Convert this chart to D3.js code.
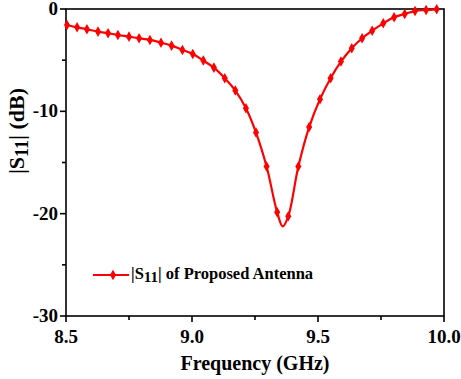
<!DOCTYPE html>
<html>
<head>
<meta charset="utf-8">
<script src="https://cdn.jsdelivr.net/npm/d3@7"></script>
<style>
  body { margin: 0; background: #fff; }
</style>
</head>
<body>
<div id="chart"></div>
<script>
// marker points
let freq = [8.504, 8.544, 8.583, 8.627, 8.667, 8.706, 8.750, 8.790, 8.833, 8.877,
            8.919, 8.962, 9.003, 9.045, 9.087, 9.130, 9.172, 9.214, 9.254, 9.296,
            9.338, 9.382, 9.422, 9.465, 9.508, 9.550, 9.591, 9.634, 9.675, 9.715,
            9.759, 9.802, 9.844, 9.885, 9.929, 9.971];
let s11 = [-1.56, -1.79, -1.98, -2.21, -2.37, -2.54, -2.70, -2.86, -3.02, -3.29,
           -3.58, -4.00, -4.39, -5.04, -5.73, -6.76, -7.97, -9.69, -12.07, -15.39,
           -19.87, -20.26, -15.39, -11.54, -8.81, -6.76, -5.14, -3.83, -2.86, -2.12,
           -1.40, -0.81, -0.49, -0.20, -0.10, -0.03];
// resonance dip between markers
let dipFreq = [9.360];
let dipS11 = [-21.24];

let xTicks = [8.5, 9.0, 9.5, 10.0];
let xMinor = [8.75, 9.25, 9.75];
let yTicks = [0, -10, -20, -30];
let yMinor = [-5, -15, -25];

const width = 461, height = 379;
const margin = {left: 66, right: 17, top: 9, bottom: 63};
const serif = "'Liberation Serif', 'Times New Roman', serif";

let svg = d3.select("#chart").append("svg")
    .attr("width", width)
    .attr("height", height)
    .attr("font-family", serif)
    .attr("font-weight", "bold");

let x = d3.scaleLinear().domain([8.5, 10.0]).range([margin.left, width - margin.right]);
let y = d3.scaleLinear().domain([-30, 0]).range([height - margin.bottom, margin.top]);

let points = freq.map((f, i) => [f, s11[i]]);
let linePts = points.concat(dipFreq.map((f, i) => [f, dipS11[i]])).sort((a, b) => a[0] - b[0]);

// frame
svg.append("rect")
    .attr("x", x(8.5)).attr("y", y(0))
    .attr("width", x(10) - x(8.5)).attr("height", y(-30) - y(0))
    .attr("fill", "none").attr("stroke", "#000").attr("stroke-width", 1.6);

// bottom axis
let gx = svg.append("g").attr("transform", `translate(0,${y(-30)})`);
gx.selectAll(".maj").data(xTicks).enter().append("line")
    .attr("x1", d => x(d)).attr("x2", d => x(d))
    .attr("y1", 0).attr("y2", 6).attr("stroke", "#000").attr("stroke-width", 1.6);
gx.selectAll(".min").data(xMinor).enter().append("line")
    .attr("x1", d => x(d)).attr("x2", d => x(d))
    .attr("y1", 0).attr("y2", 4).attr("stroke", "#000").attr("stroke-width", 1.6);
gx.selectAll("text").data(xTicks).enter().append("text")
    .attr("x", d => x(d)).attr("y", 27)
    .attr("text-anchor", "middle").attr("font-size", 19)
    .text(d => d.toFixed(1));

// left axis
let gy = svg.append("g").attr("transform", `translate(${x(8.5)},0)`);
gy.selectAll(".maj").data(yTicks).enter().append("line")
    .attr("x1", 0).attr("x2", -6)
    .attr("y1", d => y(d)).attr("y2", d => y(d)).attr("stroke", "#000").attr("stroke-width", 1.6);
gy.selectAll(".min").data(yMinor).enter().append("line")
    .attr("x1", 0).attr("x2", -4)
    .attr("y1", d => y(d)).attr("y2", d => y(d)).attr("stroke", "#000").attr("stroke-width", 1.6);
gy.selectAll("text").data(yTicks).enter().append("text")
    .attr("x", -8).attr("y", d => y(d) + 6)
    .attr("text-anchor", "end").attr("font-size", 19)
    .text(d => d);

// axis titles
svg.append("text")
    .attr("x", (x(8.5) + x(10)) / 2).attr("y", 370)
    .attr("text-anchor", "middle").attr("font-size", 20)
    .text("Frequency (GHz)");

let yt = svg.append("text")
    .attr("transform", `translate(24,131) rotate(-90)`)
    .attr("text-anchor", "middle").attr("font-size", 22);
yt.append("tspan").text("|S");
yt.append("tspan").attr("font-size", 18).attr("dy", 4).text("11");
yt.append("tspan").attr("dy", -4).text("| (dB)");

// curve
let line = d3.line().x(d => x(d[0])).y(d => y(d[1])).curve(d3.curveCatmullRom);
svg.append("path")
    .datum(linePts)
    .attr("d", line)
    .attr("fill", "none").attr("stroke", "#ff0000").attr("stroke-width", 2.2);

let diamond = d3.symbol().type(d3.symbolDiamond).size(32);
svg.selectAll(".mk").data(points).enter().append("path")
    .attr("transform", d => `translate(${x(d[0])},${y(d[1])})`)
    .attr("d", diamond).attr("fill", "#ff0000");

// legend
let lg = svg.append("g");
lg.append("line").attr("x1", 93).attr("x2", 129).attr("y1", 275).attr("y2", 275)
    .attr("stroke", "#ff0000").attr("stroke-width", 2.2);
lg.append("path").attr("transform", "translate(113,275)").attr("d", diamond).attr("fill", "#ff0000");
let lt = lg.append("text").attr("x", 131).attr("y", 279).attr("font-size", 16.5);
lt.append("tspan").text("|S");
lt.append("tspan").attr("font-size", 15).attr("dy", 3).text("11");
lt.append("tspan").attr("dy", -3).text("| of Proposed Antenna");
</script>
</body>
</html>
